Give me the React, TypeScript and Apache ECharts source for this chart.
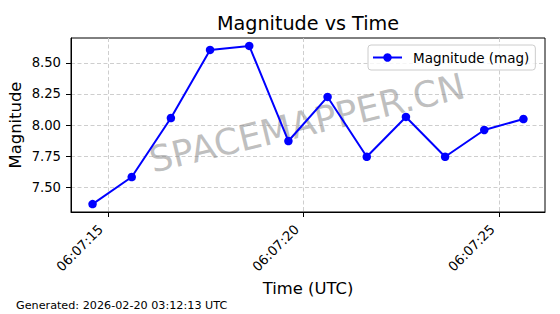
import { useEffect, useRef } from "react";
import * as echarts from "echarts";

// ---- data ----
const times = [
  "06:07:14.61", "06:07:15.61", "06:07:16.61", "06:07:17.61",
  "06:07:18.61", "06:07:19.61", "06:07:20.61", "06:07:21.61",
  "06:07:22.61", "06:07:23.61", "06:07:24.61", "06:07:25.61",
];
const magnitudes = [7.363, 7.581, 8.056, 8.605, 8.637, 7.871, 8.226, 7.744, 8.065, 7.744, 7.96, 8.048];
const xTickTimes = ["06:07:15", "06:07:20", "06:07:25"];
const yTicks = [7.5, 7.75, 8.0, 8.25, 8.5];

const seriesName = "Magnitude (mag)";
const titleText = "Magnitude vs Time";
const xName = "Time (UTC)";
const yName = "Magnitude";
const footerText = "Generated: 2026-02-20 03:12:13 UTC";
const watermarkText = "SPACEMAPPER.CN";

const FONT = "DejaVu Sans";

function toMs(t: string): number {
  const [h, m, s] = t.split(":");
  return Date.UTC(2026, 1, 20, Number(h), Number(m), 0) + Math.round(parseFloat(s) * 1000);
}
function pad2(n: number) {
  return n < 10 ? "0" + n : String(n);
}
function fmtTime(ms: number): string {
  const d = new Date(ms);
  return pad2(d.getUTCHours()) + ":" + pad2(d.getUTCMinutes()) + ":" + pad2(d.getUTCSeconds());
}

export default function App() {
  const ref = useRef<HTMLDivElement>(null);
  useEffect(() => {
    if (!ref.current) return;
    const chart = echarts.init(ref.current, null, { renderer: "svg" });
    const xs = times.map(toMs);
    const xMin = Math.min(...xs);
    const xMax = Math.max(...xs);
    const xPad = (xMax - xMin) * 0.05;
    const yMin = Math.min(...magnitudes);
    const yMax = Math.max(...magnitudes);
    const yPad = (yMax - yMin) * 0.05;
    const xTickVals = xTickTimes.map(toMs);
    const gridLine = { show: true, lineStyle: { color: "#c8c8c8", type: [4, 2.5], width: 0.9 } };

    chart.setOption({
      animation: false,
      textStyle: { fontFamily: FONT },
      grid: {
        left: 71, right: 15, top: 38, bottom: 102,
        show: true, borderColor: "#000", borderWidth: 1, backgroundColor: "transparent",
      },
      xAxis: {
        type: "value",
        min: xMin - xPad,
        max: xMax + xPad,
        axisLine: { show: true, lineStyle: { color: "#000", width: 1 } },
        axisTick: { show: true, length: 5, lineStyle: { color: "#000", width: 1 }, customValues: xTickVals },
        axisLabel: {
          customValues: xTickVals,
          rotate: 45,
          margin: 8,
          padding: [0, 10, 0, 0],
          color: "#000",
          fontSize: 13.2,
          fontFamily: FONT,
          formatter: (v: number) => fmtTime(v),
        },
        splitLine: gridLine,
      },
      yAxis: {
        type: "value",
        min: yMin - yPad,
        max: yMax + yPad,
        axisLine: { show: true, lineStyle: { color: "#000", width: 1 } },
        axisTick: { show: true, length: 5, lineStyle: { color: "#000", width: 1 }, customValues: yTicks },
        axisLabel: {
          customValues: yTicks,
          margin: 10,
          color: "#000",
          fontSize: 13.2,
          fontFamily: FONT,
          formatter: (v: number) => v.toFixed(2),
        },
        splitLine: gridLine,
      },
      legend: {
        left: 368,
        top: 45,
        padding: [5, 6, 5, 4],
        itemWidth: 29,
        itemHeight: 10.6,
        itemGap: 0,
        backgroundColor: "rgba(255,255,255,0.8)",
        borderColor: "#cccccc",
        borderWidth: 1,
        borderRadius: 3,
        textStyle: { fontSize: 13.5, color: "#000", fontFamily: FONT, lineHeight: 15, padding: [0, 0, 0, 6] },
        data: [seriesName],
      },
      series: [
        {
          type: "line",
          name: seriesName,
          data: xs.map((x, i) => [x, magnitudes[i]]),
          symbol: "circle",
          symbolSize: 8.5,
          showAllSymbol: true,
          lineStyle: { color: "#0000ff", width: 2 },
          itemStyle: { color: "#0000ff" },
          z: 3,
        },
      ],
      graphic: [
        {
          type: "text", x: 307, y: 123, rotation: (13.5 * Math.PI) / 180, z: 1,
          style: {
            text: watermarkText, fontSize: 36, fontFamily: FONT,
            fill: "rgba(128,128,128,0.5)", align: "center", verticalAlign: "middle",
          },
        },
        {
          type: "text", x: 308, y: 23.4,
          style: { text: titleText, fontSize: 19.2, fontFamily: FONT, fill: "#000", align: "center", verticalAlign: "middle" },
        },
        {
          type: "text", x: 308, y: 288.6,
          style: { text: xName, fontSize: 16.4, fontFamily: FONT, fill: "#000", align: "center", verticalAlign: "middle" },
        },
        {
          type: "text", x: 15, y: 125, rotation: Math.PI / 2,
          style: { text: yName, fontSize: 16.4, fontFamily: FONT, fill: "#000", align: "center", verticalAlign: "middle" },
        },
        {
          type: "text", x: 16, y: 305,
          style: { text: footerText, fontSize: 11.2, fontFamily: FONT, fill: "#000", align: "left", verticalAlign: "middle" },
        },
      ],
    });
    return () => chart.dispose();
  }, []);
  return (
    <div
      ref={ref}
      style={{ position: "fixed", left: 0, top: 0, width: 560, height: 314, background: "#fff" }}
    />
  );
}
